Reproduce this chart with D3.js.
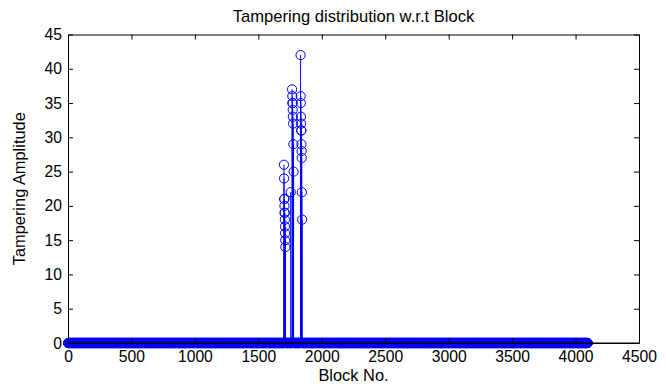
<!DOCTYPE html>
<html>
<head>
<meta charset="utf-8">
<script src="https://cdn.jsdelivr.net/npm/d3@7"></script>
<style>
  html, body { margin: 0; padding: 0; background: #fff; }
  svg { display: block; }
  text { font-family: "Liberation Sans", Arial, sans-serif; fill: #000; }
</style>
</head>
<body>
<svg id="chart" width="666" height="388"></svg>
<script>
// ---- data ----
const blockCount = 4096;
const tamperedBlocks = [
  1702, 1703, 1704, 1705, 1706, 1707, 1708, 1709, 1710, 1711, 1712, 1713,
  1755, 1766, 1768, 1769, 1770, 1771, 1772, 1774, 1776, 1778,
  1833, 1834, 1835, 1836, 1837, 1838, 1839, 1840, 1841, 1842, 1843, 1845
];
const tamperedValues = [
  26, 24, 21, 21, 20, 19, 19, 18, 17, 16, 15, 14,
  22, 37, 36, 35, 35, 34, 33, 32, 29, 25,
  42, 36, 35, 33, 32, 31, 31, 29, 28, 27, 22, 18
];
const xTicks = [0, 500, 1000, 1500, 2000, 2500, 3000, 3500, 4000, 4500];
const yTicks = [0, 5, 10, 15, 20, 25, 30, 35, 40, 45];
const titleText = "Tampering distribution w.r.t Block";
const xLabelText = "Block No.";
const yLabelText = "Tampering Amplitude";

// build series
const tamperMap = new Map(tamperedBlocks.map((b, i) => [b, tamperedValues[i]]));
const series = [];
for (let b = 1; b <= blockCount; b++) series.push({ block: b, value: tamperMap.get(b) || 0 });

// ---- layout ----
const W = 666, H = 388;
const m = { left: 68, right: 27, top: 34.5, bottom: 45 };
const svg = d3.select("#chart");
const x = d3.scaleLinear().domain([0, 4500]).range([m.left, W - m.right]);
const y = d3.scaleLinear().domain([0, 45]).range([H - m.bottom, m.top]);
const blue = "#0000ff";

const g = svg.append("g");

// stems
g.append("g").selectAll("line").data(series.filter(d => d.value !== 0)).join("line")
  .attr("x1", d => x(d.block)).attr("x2", d => x(d.block))
  .attr("y1", y(0)).attr("y2", d => y(d.value))
  .attr("stroke", blue).attr("stroke-width", 1);

// markers
g.append("g").selectAll("circle").data(series).join("circle")
  .attr("cx", d => x(d.block)).attr("cy", d => y(d.value))
  .attr("r", 4.6).attr("fill", "none").attr("stroke", blue).attr("stroke-width", 1);

// baseline
g.append("line").attr("x1", x(0)).attr("x2", x(4500)).attr("y1", y(0)).attr("y2", y(0))
  .attr("stroke", "#000").attr("stroke-width", 1);

// axes (ticks inward, box)
const tickLen = 5;
const axB = svg.append("g").attr("transform", `translate(0,${y(0)})`)
  .call(d3.axisBottom(x).tickValues(xTicks).tickFormat(d3.format("d")).tickSizeInner(-tickLen).tickSizeOuter(0).tickPadding(8));
const axT = svg.append("g").attr("transform", `translate(0,${y(45)})`)
  .call(d3.axisTop(x).tickValues(xTicks).tickFormat("").tickSizeInner(-tickLen).tickSizeOuter(0));
const axL = svg.append("g").attr("transform", `translate(${x(0)},0)`)
  .call(d3.axisLeft(y).tickValues(yTicks).tickFormat(d3.format("d")).tickSizeInner(-tickLen).tickSizeOuter(0).tickPadding(6));
const axR = svg.append("g").attr("transform", `translate(${x(4500)},0)`)
  .call(d3.axisRight(y).tickValues(yTicks).tickFormat("").tickSizeInner(-tickLen).tickSizeOuter(0));
[axB, axT, axL, axR].forEach(a => {
  a.select(".domain").attr("stroke", "#000").attr("stroke-width", 1);
  a.selectAll(".tick line").attr("stroke", "#000");
  a.selectAll("text").attr("font-size", 15.7).attr("font-family", "Liberation Sans, Arial, sans-serif").attr("fill", "#000");
});

// title and labels
svg.append("text").attr("x", (x(0) + x(4500)) / 2).attr("y", 22)
  .attr("text-anchor", "middle").attr("font-size", 16.6).text(titleText);
svg.append("text").attr("x", (x(0) + x(4500)) / 2).attr("y", 381)
  .attr("text-anchor", "middle").attr("font-size", 16.4).text(xLabelText);
svg.append("text").attr("transform", `translate(25,${(y(0) + y(45)) / 2}) rotate(-90)`)
  .attr("text-anchor", "middle").attr("font-size", 16.4).text(yLabelText);
</script>
</body>
</html>
